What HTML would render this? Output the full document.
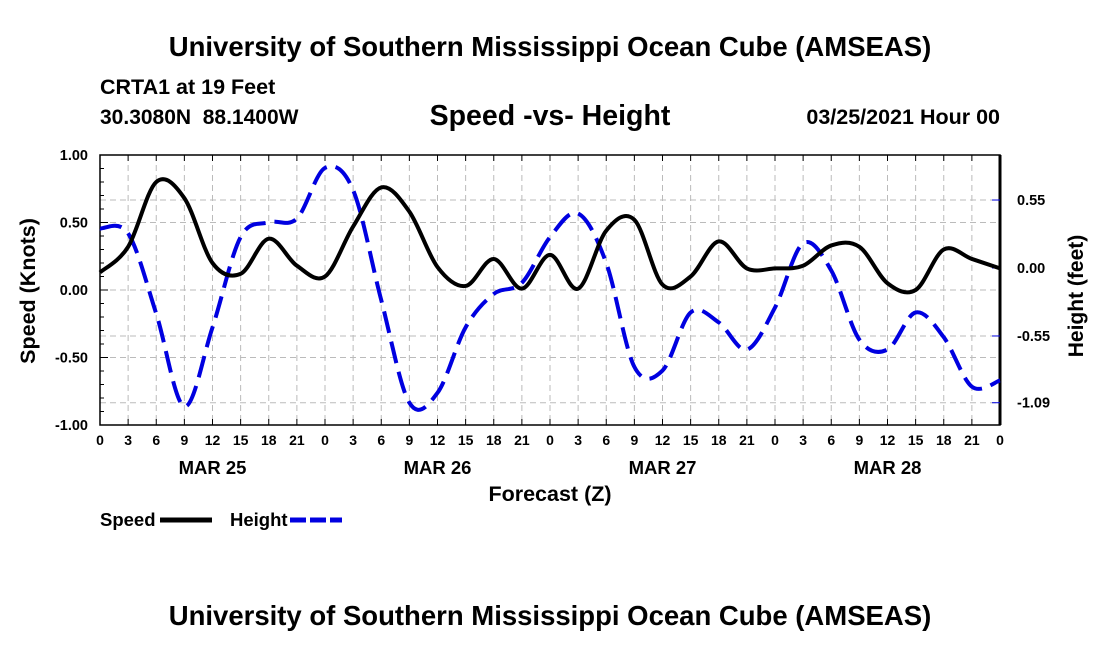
<!DOCTYPE html>
<html><head><meta charset="utf-8"><style>
body{margin:0;background:#fff;}
svg text{font-family:"Liberation Sans",sans-serif;font-weight:bold;fill:#000;}
</style></head><body>
<svg id="chart" width="1100" height="650" xmlns="http://www.w3.org/2000/svg">
<text x="550" y="56" font-size="27.5" text-anchor="middle">University of Southern Mississippi Ocean Cube (AMSEAS)</text>
<text x="100" y="94" font-size="21.5">CRTA1 at 19 Feet</text>
<text x="100" y="124" font-size="21" xml:space="preserve">30.3080N  88.1400W</text>
<text x="550" y="125" font-size="28.5" text-anchor="middle">Speed -vs- Height</text>
<text x="1000" y="124" font-size="21.5" text-anchor="end">03/25/2021 Hour 00</text>
<g id="grid"></g>
<g id="axes"></g>
<g id="series"></g>
<text x="550" y="501" font-size="21.5" text-anchor="middle">Forecast (Z)</text>
<text transform="translate(35,291) rotate(-90)" font-size="21.5" text-anchor="middle">Speed (Knots)</text>
<text transform="translate(1083,296) rotate(-90)" font-size="21" text-anchor="middle">Height (feet)</text>
<g>
<text x="100" y="526" font-size="18.5">Speed</text>
<line x1="160" y1="520" x2="212" y2="520" stroke="#000" stroke-width="5"/></g>
<g>
<text x="230" y="526" font-size="18.5">Height</text>
<line x1="290" y1="520" x2="342" y2="520" stroke="#0000e0" stroke-width="5" stroke-dasharray="16,4"/></g>
<text x="550" y="625" font-size="27.5" text-anchor="middle">University of Southern Mississippi Ocean Cube (AMSEAS)</text>
</svg>
<script>
const hours=[0,3,6,9,12,15,18,21,24,27,30,33,36,39,42,45,48,51,54,57,60,63,66,69,72,75,78,81,84,87,90,93,96];
const speed=[0.13,0.32,0.80,0.68,0.20,0.12,0.38,0.18,0.10,0.47,0.76,0.58,0.17,0.03,0.23,0.01,0.26,0.01,0.44,0.52,0.04,0.10,0.36,0.16,0.16,0.18,0.33,0.32,0.05,0.00,0.30,0.23,0.16];
const height=[0.32,0.28,-0.37,-1.12,-0.48,0.25,0.37,0.40,0.81,0.63,-0.26,-1.09,-1.01,-0.48,-0.21,-0.12,0.25,0.44,0.04,-0.80,-0.83,-0.36,-0.44,-0.66,-0.32,0.20,-0.02,-0.58,-0.66,-0.36,-0.56,-0.96,-0.91];
const speedTicks=[1.00,0.50,0.00,-0.50,-1.00];
const speedTickLabels=["1.00","0.50","0.00","-0.50","-1.00"];
const heightTicks=[0.55,0.00,-0.55,-1.09];
const heightTickLabels=["0.55","0.00","-0.55","-1.09"];
const dayLabels=["MAR 25","MAR 26","MAR 27","MAR 28"];
const dayCenters=[12,36,60,84];

const L=100,R=1000,T=155,B=425;
const xs=h=>L+(R-L)*h/96;
const ys=v=>290-v*135;
const yh=v=>268-v*123.6;
const NS="http://www.w3.org/2000/svg";
function mk(parent,tag,attrs){const e=document.createElementNS(NS,tag);for(const k in attrs)e.setAttribute(k,attrs[k]);parent.appendChild(e);return e;}
const grid=document.getElementById('grid'),axes=document.getElementById('axes'),ser=document.getElementById('series');
for(let h=3;h<96;h+=3){const l=mk(grid,'line',{x1:xs(h),x2:xs(h),y1:T,y2:B,stroke:'#bbb','stroke-dasharray':'6,4'});

}
speedTicks.forEach(v=>{if(v>-1&&v<1){const l=mk(grid,'line',{x1:L,x2:R,y1:ys(v),y2:ys(v),stroke:'#bbb','stroke-dasharray':'6,4'});

}});
heightTicks.forEach(v=>{if(v!==0){const l=mk(grid,'line',{x1:L,x2:R,y1:yh(v),y2:yh(v),stroke:'#bbb','stroke-dasharray':'6,4'});

}});
mk(axes,'rect',{x:L,y:T,width:R-L,height:B-T,fill:'none',stroke:'#000','stroke-width':1.5});
mk(axes,'line',{x1:R,x2:R,y1:T,y2:B,stroke:'#000','stroke-width':3});
for(let v=-1;v<=1.001;v+=0.1){mk(axes,'line',{x1:L,x2:L+(Math.abs(v*2-Math.round(v*2))<0.01?8:4),y1:ys(v),y2:ys(v),stroke:'#000'});}
speedTicks.forEach((v,i)=>{const t=mk(axes,'text',{x:88,y:ys(v)+5,'font-size':14.5,'text-anchor':'end'});t.textContent=speedTickLabels[i];

});
heightTicks.forEach((v,i)=>{mk(axes,'line',{x1:R-8,x2:R,y1:yh(v),y2:yh(v),stroke:'#0000e0'});const t=mk(axes,'text',{x:1017,y:yh(v)+5,'font-size':14.5});t.textContent=heightTickLabels[i];

});
for(let h=0;h<=96;h+=3){mk(axes,'line',{x1:xs(h),x2:xs(h),y1:B,y2:B-6,stroke:'#000'});mk(axes,'line',{x1:xs(h),x2:xs(h),y1:T,y2:T+6,stroke:'#000'});
const t=mk(axes,'text',{x:xs(h),y:B+20,'font-size':14,'text-anchor':'middle'});t.textContent=String(h%24);

}
dayLabels.forEach((d,i)=>{const t=mk(axes,'text',{x:xs(dayCenters[i]),y:474,'font-size':18.5,'text-anchor':'middle'});t.textContent=d;

});
function path(vals,yf){const p=hours.map((h,i)=>[xs(h),yf(vals[i])]);let d='M'+p[0][0]+','+p[0][1];
for(let i=0;i<p.length-1;i++){const p0=p[Math.max(0,i-1)],p1=p[i],p2=p[i+1],p3=p[Math.min(p.length-1,i+2)];
d+=` C${p1[0]+(p2[0]-p0[0])/6},${p1[1]+(p2[1]-p0[1])/6} ${p2[0]-(p3[0]-p1[0])/6},${p2[1]-(p3[1]-p1[1])/6} ${p2[0]},${p2[1]}`;}return d;}
const hp=mk(ser,'path',{d:path(height,yh),fill:'none',stroke:'#0000e0','stroke-width':4,'stroke-dasharray':'22,9'});


const sp=mk(ser,'path',{d:path(speed,ys),fill:'none',stroke:'#000','stroke-width':4});


</script>
</body></html>
